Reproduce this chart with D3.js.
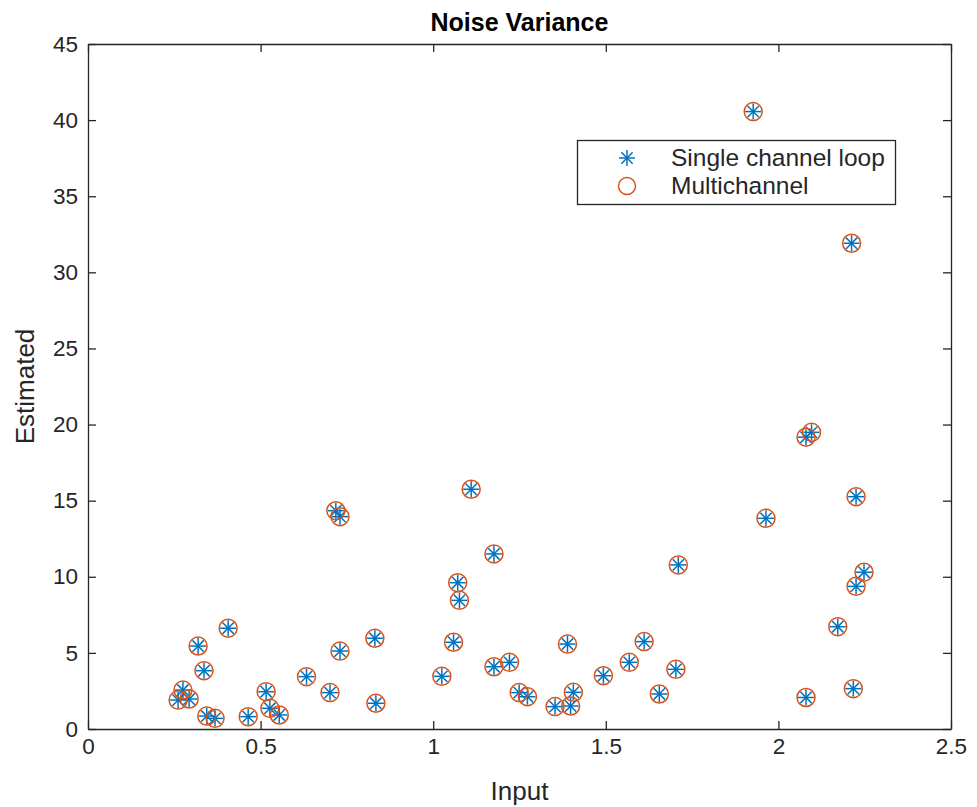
<!DOCTYPE html>
<html>
<head>
<meta charset="utf-8">
<script src="https://cdn.jsdelivr.net/npm/d3@7"></script>
<style>
  html, body { margin: 0; padding: 0; background: #fff; }
  text { font-family: "Liberation Sans", Arial, Helvetica, sans-serif; }
</style>
</head>
<body>
<svg id="chart" width="977" height="807"></svg>
<script>
// ---- data ----
const inputX = [0.261,0.275,0.293,0.319,0.336,0.344,0.368,0.406,0.464,0.516,
                0.527,0.554,0.633,0.701,0.718,0.730,0.730,0.831,0.834,1.025,
                1.059,1.071,1.076,1.110,1.176,1.176,1.221,1.249,1.273,1.353,
                1.389,1.398,1.406,1.493,1.568,1.611,1.655,1.703,1.710,1.927,
                1.964,2.080,2.096,2.080,2.172,2.212,2.217,2.225,2.225,2.248];
const singleEst = [1.90,2.56,1.97,5.45,3.83,0.85,0.70,6.62,0.81,2.45,
                   1.36,0.92,3.44,2.39,14.34,13.95,5.12,5.96,1.69,3.46,
                   5.70,9.61,8.45,15.75,11.50,4.09,4.38,2.39,2.12,1.47,
                   5.58,1.51,2.41,3.50,4.38,5.74,2.30,3.92,10.78,40.56,
                   13.84,19.17,19.49,2.07,6.72,31.91,2.65,15.26,9.37,10.30];
const multiEst = [1.90,2.56,1.97,5.45,3.83,0.85,0.70,6.62,0.81,2.45,
                  1.36,0.92,3.44,2.39,14.34,13.95,5.12,5.96,1.69,3.46,
                  5.70,9.61,8.45,15.75,11.50,4.09,4.38,2.39,2.12,1.47,
                  5.58,1.51,2.41,3.50,4.38,5.74,2.30,3.92,10.78,40.56,
                  13.84,19.17,19.49,2.07,6.72,31.91,2.65,15.26,9.37,10.30];
const xTicks = [0, 0.5, 1, 1.5, 2, 2.5];
const yTicks = [0, 5, 10, 15, 20, 25, 30, 35, 40, 45];
const seriesNames = ["Single channel loop", "Multichannel"];
const titleText = "Noise Variance";
const xLabel = "Input";
const yLabel = "Estimated";

// ---- layout ----
const L = 88, R = 951, T = 44, B = 729;
const blue = "#0072BD", orange = "#D95319", axisCol = "#262626";

const svg = d3.select("#chart");
const x = d3.scaleLinear().domain([0, 2.5]).range([L, R]);
const y = d3.scaleLinear().domain([0, 45]).range([B, T]);

// axes
const tickLen = 8;
const fmt = d => d3.format("")(d);
const xAxisB = svg.append("g").attr("transform", `translate(0,${B})`)
  .call(d3.axisBottom(x).tickValues(xTicks).tickFormat(fmt).tickSizeInner(-tickLen).tickSizeOuter(0).tickPadding(7));
const xAxisT = svg.append("g").attr("transform", `translate(0,${T})`)
  .call(d3.axisTop(x).tickValues(xTicks).tickFormat("").tickSizeInner(-tickLen).tickSizeOuter(0));
const yAxisL = svg.append("g").attr("transform", `translate(${L},0)`)
  .call(d3.axisLeft(y).tickValues(yTicks).tickFormat(fmt).tickSizeInner(-tickLen).tickSizeOuter(0).tickPadding(10));
const yAxisR = svg.append("g").attr("transform", `translate(${R},0)`)
  .call(d3.axisRight(y).tickValues(yTicks).tickFormat("").tickSizeInner(-tickLen).tickSizeOuter(0));

[xAxisB, xAxisT, yAxisL, yAxisR].forEach(g => {
  g.selectAll("path.domain").attr("stroke", axisCol).attr("stroke-width", 1.3);
  g.selectAll(".tick line").attr("stroke", axisCol).attr("stroke-width", 1.3);
  g.selectAll(".tick text").attr("fill", axisCol).style("font-size", "22.5px")
    .style("font-family", '"Liberation Sans", Arial, sans-serif');
});
xAxisB.selectAll(".tick text").attr("dy", "0.8em");

// points
const pts = inputX.map((v, i) => ({ x: v, s: singleEst[i], m: multiEst[i] }));

function asterisk(g, cx, cy, r, color) {
  const a = r * Math.SQRT1_2;
  const segs = [[-r,0,r,0],[0,-r,0,r],[-a,-a,a,a],[-a,a,a,-a]];
  segs.forEach(s => g.append("line")
    .attr("x1", cx + s[0]).attr("y1", cy + s[1]).attr("x2", cx + s[2]).attr("y2", cy + s[3])
    .attr("stroke", color).attr("stroke-width", 1.5));
}

const gS = svg.append("g");
pts.forEach(p => asterisk(gS, x(p.x), y(p.s), 8, blue));
svg.append("g").selectAll("circle").data(pts).join("circle")
  .attr("cx", d => x(d.x)).attr("cy", d => y(d.m)).attr("r", 9)
  .attr("fill", "none").attr("stroke", orange).attr("stroke-width", 1.5);

// title and labels
svg.append("text").attr("x", (L + R) / 2).attr("y", 31).attr("text-anchor", "middle")
  .style("font-size", "25px").style("font-weight", "bold").attr("fill", "#000").text(titleText);
svg.append("text").attr("x", (L + R) / 2).attr("y", 800).attr("text-anchor", "middle")
  .style("font-size", "26px").attr("fill", axisCol).text(xLabel);
svg.append("text").attr("transform", `translate(34,${(T + B) / 2}) rotate(-90)`).attr("text-anchor", "middle")
  .style("font-size", "26px").attr("fill", axisCol).text(yLabel);

// legend
const lg = svg.append("g");
lg.append("rect").attr("x", 577.5).attr("y", 140.5).attr("width", 318).attr("height", 64)
  .attr("fill", "#fff").attr("stroke", axisCol).attr("stroke-width", 1.3);
asterisk(lg, 627, 158, 8, blue);
lg.append("circle").attr("cx", 627).attr("cy", 186).attr("r", 8.5)
  .attr("fill", "none").attr("stroke", orange).attr("stroke-width", 1.5);
seriesNames.forEach((n, i) => lg.append("text").attr("x", 671).attr("y", 157 + i * 28)
  .attr("dy", "0.35em").style("font-size", "24.5px").attr("fill", axisCol).text(n));
</script>
</body>
</html>
